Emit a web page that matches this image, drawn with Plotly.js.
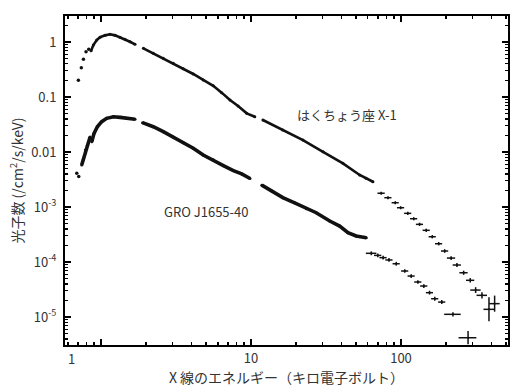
<!DOCTYPE html>
<html>
<head>
<meta charset="utf-8">
<script src="https://cdn.plot.ly/plotly-3.0.1.min.js"></script>
<style>html,body{margin:0;padding:0;background:#fff;}#chart{width:526px;height:392px;}</style>
</head>
<body>
<div id="chart"></div>
<script>
// ---- Cyg X-1 (はくちょう座 X-1) ----
var cygDotE = [0.706, 0.739, 0.763, 0.794, 0.828];
var cygDotF = [0.201, 0.341, 0.484, 0.666, 0.737];
var cygLineE = [0.858,0.889,0.936,0.985,1.063,1.148,1.24,1.339,1.445,1.56,1.685, null,
  1.916,2.231,2.6,3.03,3.53,4.12,4.8,5.6,6.37,7.24,8.2,9.36,10.6, null,
  12.0,16.3,22.2,30.2,41.0,53.0,58.5,65.0];
var cygLineF = [0.695,0.882,1.087,1.22,1.32,1.38,1.32,1.22,1.12,1.01,0.908, null,
  0.768,0.623,0.505,0.41,0.327,0.262,0.204,0.16,0.12,0.088,0.0687,0.0505,0.0438, null,
  0.0382,0.0251,0.0165,0.0101,6.23e-3,3.82e-3,3.33e-3,2.88e-3];
var cygCrossE = [73.8,81.9,91.6,99.5,111,121.6,133,147.4,161.7,178.4,195.6,216,236,261.6,289.7,314.6,346.7,386,421];
var cygCrossF = [1.78e-3,1.476e-3,1.197e-3,9.70e-4,7.67e-4,6.12e-4,4.84e-4,3.77e-4,2.88e-4,2.15e-4,1.585e-4,1.18e-4,8.82e-5,6.38e-5,4.65e-5,3.09e-5,2.48e-5,1.38e-5,1.75e-5];
var cygCrossXerr = [4.1,4.5,5.0,5.5,6.1,6.7,7.3,8.1,8.9,9.8,10.8,13.6,14.9,16.5,18.3,25,27.7,31,34];
var cygCrossYerrPlus = [1.2e-4,1.0e-4,8e-5,6.5e-5,5.2e-5,4.2e-5,3.4e-5,2.7e-5,2.1e-5,1.6e-5,1.25e-5,9.5e-6,7.5e-6,5.8e-6,4.5e-6,4.0e-6,3.3e-6,9.0e-6,7.0e-6];
var cygCrossYerrMinus = [1.1e-4,0.95e-4,7.5e-5,6e-5,4.8e-5,3.9e-5,3.1e-5,2.5e-5,1.9e-5,1.45e-5,1.15e-5,8.8e-6,7e-6,5.3e-6,4.1e-6,3.6e-6,3.0e-6,5.45e-6,5.0e-6];

// ---- GRO J1655-40 ----
var groDotE = [0.689, 0.71];
var groDotF = [4.1e-3, 3.6e-3];
var groLineE = [0.743,0.763,0.786,0.81,0.845, null,
  0.867,0.898,0.945,1.01,1.09,1.21,1.34,1.48,1.685, null,
  1.89,2.23,2.6,3.03,3.53,4.12,4.8,5.6,6.54,7.62,8.67,9.85, null,
  11.8,13.8,16.3,19.7,23.4,27.2,33.5,39,44.3,50.2,58.7];
var groLineF = [5.8e-3,7.4e-3,0.0109,0.0133,0.0188, null,
  0.0154,0.0218,0.0288,0.0356,0.041,0.0438,0.0427,0.041,0.0394, null,
  0.0342,0.0288,0.0234,0.0188,0.0147,0.0117,8.8e-3,7.2e-3,5.65e-3,4.6e-3,4.0e-3,3.3e-3, null,
  2.5e-3,1.95e-3,1.48e-3,1.18e-3,9.3e-4,7.87e-4,5.56e-4,4.5e-4,3.41e-4,2.97e-4,2.77e-4];
var groCrossE = [63.4,70,76,83.2,93,106,117,129.6,142,155,168,187,222,280];
var groCrossF = [1.44e-4,1.32e-4,1.2e-4,1.09e-4,9.3e-5,6.86e-5,5.56e-5,4.33e-5,3.66e-5,2.77e-5,2.15e-5,1.87e-5,1.12e-5,4.2e-6];
var groCrossXerr = [5.1,3.9,4.2,4.6,5.1,5.8,6.4,7.1,7.8,8.5,9.2,10.3,28,38];
var groCrossYerrPlus = [1.2e-5,1.1e-5,1.0e-5,9e-6,7.5e-6,5.5e-6,4.5e-6,3.5e-6,3.0e-6,2.3e-6,1.8e-6,1.6e-6,1.0e-6,1.35e-6];
var groCrossYerrMinus = [1.1e-5,1.0e-5,0.9e-5,8.3e-6,7e-6,5.1e-6,4.2e-6,3.2e-6,2.8e-6,2.1e-6,1.7e-6,1.5e-6,0.95e-6,1.0e-6];

// ---- axis ticks / labels ----
var xMajorVals = [1, 10, 100];
var xMajorText = ['', '10', '100'];
var xMinorVals = [0.6,0.7,0.8,0.9,2,3,4,5,6,7,8,9,20,30,40,50,60,70,80,90,200,300,400,500];
var yMajorVals = [1, 0.1, 0.01, 1e-3, 1e-4, 1e-5];
var yMajorText = ['1', '0.1', '0.01', '10<sup>-3</sup>', '10<sup>-4</sup>', '10<sup>-5</sup>'];
var yMinorVals = [];
[1e-6,1e-5,1e-4,1e-3,1e-2,1e-1,1].forEach(function(d){
  for (var k = 2; k <= 9; k++) yMinorVals.push(d * k);
});

var FONT = 'Noto Sans CJK JP, Noto Sans, sans-serif';
var INK = '#111';
var TXT = '#333';

var traces = [
  {x: cygDotE, y: cygDotF, mode: 'markers', marker: {size: 3.5, color: INK}, hoverinfo: 'skip'},
  {x: cygLineE, y: cygLineF, mode: 'lines+markers', connectgaps: false,
   line: {color: INK, width: 2.6}, marker: {size: 3, color: INK}, hoverinfo: 'skip'},
  {x: cygCrossE, y: cygCrossF, mode: 'markers', marker: {size: 2, color: INK},
   error_x: {type: 'data', array: cygCrossXerr, color: INK, thickness: 1.5, width: 0},
   error_y: {type: 'data', symmetric: false, array: cygCrossYerrPlus, arrayminus: cygCrossYerrMinus, color: INK, thickness: 1.5, width: 0},
   hoverinfo: 'skip'},
  {x: groDotE, y: groDotF, mode: 'markers', marker: {size: 3.5, color: INK}, hoverinfo: 'skip'},
  {x: groLineE, y: groLineF, mode: 'lines+markers', connectgaps: false,
   line: {color: INK, width: 3.6}, marker: {size: 3, color: INK}, hoverinfo: 'skip'},
  {x: groCrossE, y: groCrossF, mode: 'markers', marker: {size: 2, color: INK},
   error_x: {type: 'data', array: groCrossXerr, color: INK, thickness: 1.5, width: 0},
   error_y: {type: 'data', symmetric: false, array: groCrossYerrPlus, arrayminus: groCrossYerrMinus, color: INK, thickness: 1.5, width: 0},
   hoverinfo: 'skip'}
];

var layout = {
  width: 526, height: 392,
  margin: {l: 65, r: 18, t: 16, b: 47},
  paper_bgcolor: '#fff', plot_bgcolor: '#fff',
  showlegend: false,
  font: {family: FONT, size: 13, color: TXT},
  xaxis: {
    type: 'log', range: [Math.log10(0.575), Math.log10(517)],
    showgrid: false, zeroline: false,
    showline: true, linecolor: '#000', linewidth: 2, mirror: 'ticks',
    ticks: 'inside', ticklen: 6, tickwidth: 1.5, tickcolor: '#000',
    tickmode: 'array', tickvals: xMajorVals, ticktext: xMajorText,
    tickfont: {family: FONT, size: 13, color: TXT},
    minor: {tickmode: 'array', tickvals: xMinorVals, ticks: 'inside', ticklen: 3, tickwidth: 1.5, tickcolor: '#000', showgrid: false},
    title: {text: 'X 線のエネルギー（キロ電子ボルト）', font: {family: FONT, size: 14, color: TXT}, standoff: 8}
  },
  yaxis: {
    type: 'log', range: [Math.log10(3.1e-6), Math.log10(2.97)],
    showgrid: false, zeroline: false,
    showline: true, linecolor: '#000', linewidth: 2, mirror: 'ticks',
    ticks: 'inside', ticklen: 6, tickwidth: 1.5, tickcolor: '#000',
    tickmode: 'array', tickvals: yMajorVals, ticktext: yMajorText,
    tickfont: {family: FONT, size: 13, color: TXT},
    ticklabelstandoff: 4,
    minor: {tickmode: 'array', tickvals: yMinorVals, ticks: 'inside', ticklen: 3, tickwidth: 1.2, tickcolor: '#000', showgrid: false},
    title: {text: '光子数 (/cm<sup>2</sup>/s/keV)', font: {family: FONT, size: 14, color: TXT}, standoff: 4}
  },
  annotations: [
    {text: '1', xref: 'x', yref: 'paper', x: Math.log10(0.631), y: 0, xanchor: 'center', yanchor: 'top', yshift: -2,
     showarrow: false, font: {family: FONT, size: 13, color: TXT}},
    {text: 'はくちょう座 X-1', xref: 'paper', yref: 'paper', x: (347 - 65) / 443, y: (345 - 115) / 329,
     xanchor: 'center', yanchor: 'middle',
     showarrow: false, font: {family: FONT, size: 13, color: TXT}},
    {text: 'GRO J1655-40', xref: 'paper', yref: 'paper', x: (206 - 65) / 443, y: (345 - 211) / 329,
     xanchor: 'center', yanchor: 'middle',
     showarrow: false, font: {family: FONT, size: 13, color: TXT}}
  ]
};

Plotly.newPlot('chart', traces, layout, {displayModeBar: false, staticPlot: true});
</script>
</body>
</html>
